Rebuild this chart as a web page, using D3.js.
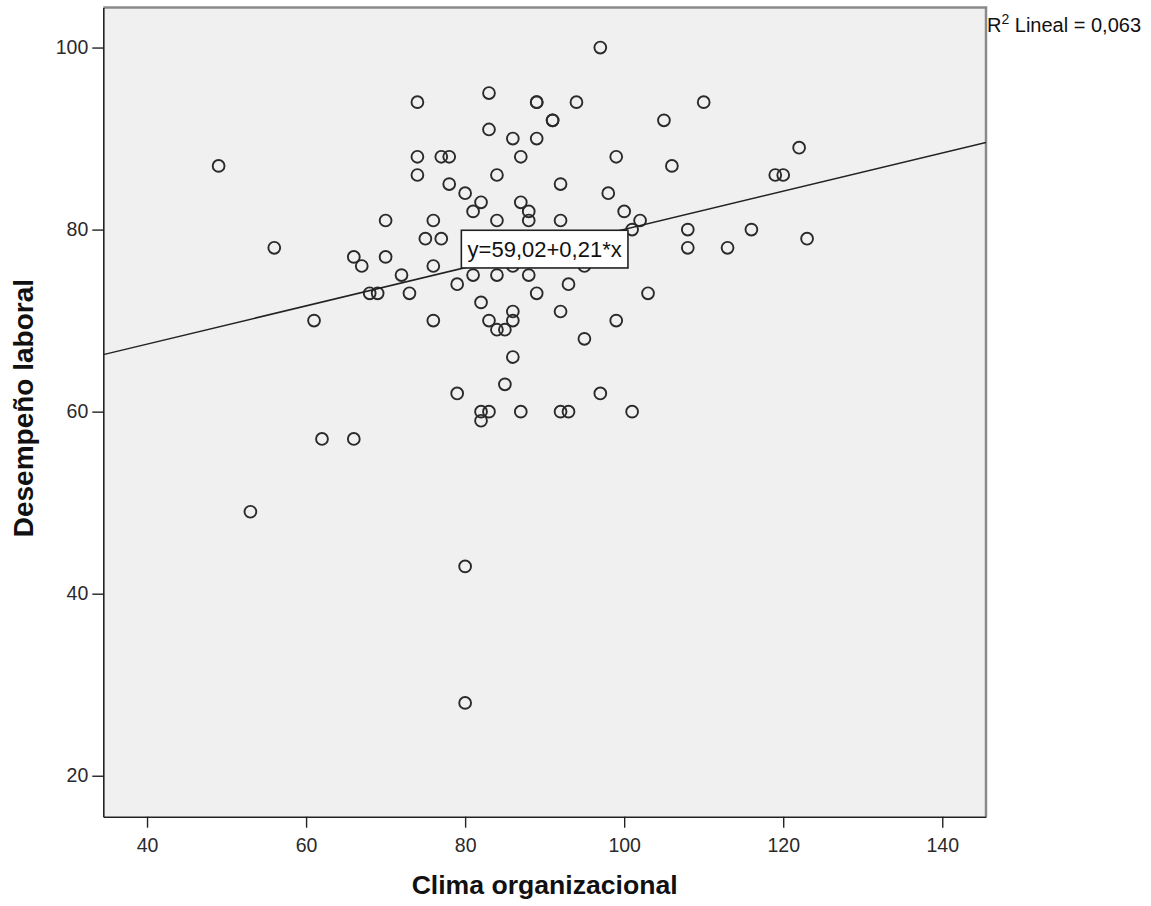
<!DOCTYPE html>
<html>
<head>
<meta charset="utf-8">
<script src="https://cdn.jsdelivr.net/npm/d3@7"></script>
<style>
  html, body { margin: 0; padding: 0; background: #ffffff; }
  svg { display: block; font-family: "Liberation Sans", Arial, sans-serif; }
</style>
</head>
<body>
<svg id="chart" width="1151" height="906"></svg>
<script>
// Clima organizacional (x) vs. Desempeño laboral (y), one entry per respondent
const clima = [
  49, 56, 53, 61, 62, 66, 66, 67, 68, 69,
  70, 70, 72, 73, 74, 74, 74, 75, 76, 76,
  76, 77, 78, 77, 78, 79, 79, 80, 80, 80,
  81, 81, 82, 82, 82, 82, 83, 83, 83, 83,
  84, 84, 84, 84, 85, 85, 86, 86, 86, 86,
  86, 87, 87, 87, 88, 88, 88, 89, 89, 89,
  89, 91, 91, 92, 92, 92, 92, 93, 93, 94,
  95, 95, 97, 97, 98, 99, 99, 100, 101, 101,
  102, 103, 105, 106, 110, 108, 108, 113, 116, 119,
  120, 122, 123
];
const desempeno = [
  87, 78, 49, 70, 57, 57, 77, 76, 73, 73,
  81, 77, 75, 73, 94, 88, 86, 79, 81, 76,
  70, 88, 88, 79, 85, 74, 62, 84, 43, 28,
  82, 75, 83, 72, 60, 59, 95, 91, 70, 60,
  86, 81, 75, 69, 69, 63, 90, 76, 71, 70,
  66, 88, 83, 60, 82, 81, 75, 94, 94, 90,
  73, 92, 92, 85, 81, 71, 60, 60, 74, 94,
  76, 68, 100, 62, 84, 88, 70, 82, 80, 60,
  81, 73, 92, 87, 94, 80, 78, 78, 80, 86,
  86, 89, 79
];

// Fitted linear model and its fit statistic
const intercept = 59.02;
const slope = 0.21;
const r2Text = "0,063";

// Axis ranges and tick values
const xDomain = [34.5, 145.5];
const yDomain = [15.5, 104.4];
const xTicks = [40, 60, 80, 100, 120, 140];
const yTicks = [20, 40, 60, 80, 100];

const xTitle = "Clima organizacional";
const yTitle = "Desempeño laboral";

const fmtComma = v => String(v).replace(".", ",");
const eqLabel = "y=" + fmtComma(intercept.toFixed(2)) + "+" + fmtComma(slope.toFixed(2)) + "*x";

const W = 1151, H = 906;
const margin = { top: 7.5, right: 165, bottom: 89.3, left: 103.3 };
const innerW = W - margin.left - margin.right;
const innerH = H - margin.top - margin.bottom;

const svg = d3.select("#chart");
const g = svg.append("g").attr("transform", `translate(${margin.left},${margin.top})`);

const x = d3.scaleLinear().domain(xDomain).range([0, innerW]);
const y = d3.scaleLinear().domain(yDomain).range([innerH, 0]);

// plot background
g.append("rect")
  .attr("width", innerW).attr("height", innerH)
  .attr("fill", "#f0f0f0");

svg.append("defs").append("clipPath").attr("id", "plotClip")
  .append("rect").attr("width", innerW).attr("height", innerH);

// top and right frame in grey
g.append("path")
  .attr("d", `M0,0H${innerW}V${innerH}`)
  .attr("fill", "none")
  .attr("stroke", "#8a8a8a")
  .attr("stroke-width", 2.5);

// points
const pts = clima.map((c, i) => ({ x: c, y: desempeno[i] }));
g.append("g")
  .selectAll("circle")
  .data(pts)
  .join("circle")
  .attr("cx", d => x(d.x))
  .attr("cy", d => y(d.y))
  .attr("r", 5.9)
  .attr("fill", "none")
  .attr("stroke", "#2a2a2a")
  .attr("stroke-width", 1.9);

// regression line
const fit = v => intercept + slope * v;
g.append("line")
  .attr("clip-path", "url(#plotClip)")
  .attr("x1", x(xDomain[0])).attr("y1", y(fit(xDomain[0])))
  .attr("x2", x(xDomain[1])).attr("y2", y(fit(xDomain[1])))
  .attr("stroke", "#222222")
  .attr("stroke-width", 1.5);

// axes
const xAxis = g.append("g")
  .attr("transform", `translate(0,${innerH})`)
  .call(d3.axisBottom(x).tickValues(xTicks).tickSize(11).tickPadding(10).tickSizeOuter(0));
const yAxis = g.append("g")
  .call(d3.axisLeft(y).tickValues(yTicks).tickSize(11).tickPadding(4).tickSizeOuter(0));

[xAxis, yAxis].forEach(ax => {
  ax.select(".domain").attr("stroke", "#222222").attr("stroke-width", 1.6);
  ax.selectAll(".tick line").attr("stroke", "#222222").attr("stroke-width", 1.4);
  ax.selectAll(".tick text")
    .attr("fill", "#2a2a2a")
    .attr("font-family", "'Liberation Sans', Arial, sans-serif")
    .attr("font-size", 19.5);
});

// equation label in a white box, centred on a point of the fitted region
const eqCx = x(90), eqCy = y(77.85);
const eqG = g.append("g");
eqG.append("rect")
  .attr("x", eqCx - 83.3).attr("y", eqCy - 18.9)
  .attr("width", 166.6).attr("height", 37.7)
  .attr("fill", "#ffffff")
  .attr("stroke", "#222222")
  .attr("stroke-width", 1.6);
eqG.append("text")
  .attr("x", eqCx).attr("y", eqCy)
  .attr("text-anchor", "middle")
  .attr("dy", "0.36em")
  .attr("font-size", 22)
  .attr("fill", "#111111")
  .text(eqLabel);

// R² annotation to the right of the plot
const r2 = svg.append("text")
  .attr("x", margin.left + innerW + 1)
  .attr("y", 32)
  .attr("font-size", 20)
  .attr("fill", "#111111");
r2.append("tspan").text("R");
r2.append("tspan").attr("dy", -8).attr("font-size", 14).text("2");
r2.append("tspan").attr("dy", 8).text(" Lineal = " + r2Text);

// axis titles
svg.append("text")
  .attr("x", margin.left + innerW / 2)
  .attr("y", 894)
  .attr("text-anchor", "middle")
  .attr("font-size", 26.6)
  .attr("font-weight", "bold")
  .attr("fill", "#111111")
  .text(xTitle);

svg.append("text")
  .attr("transform", `translate(33,${margin.top + innerH / 2 - 4}) rotate(-90)`)
  .attr("text-anchor", "middle")
  .attr("font-size", 28)
  .attr("font-weight", "bold")
  .attr("fill", "#111111")
  .text(yTitle);
</script>
</body>
</html>
